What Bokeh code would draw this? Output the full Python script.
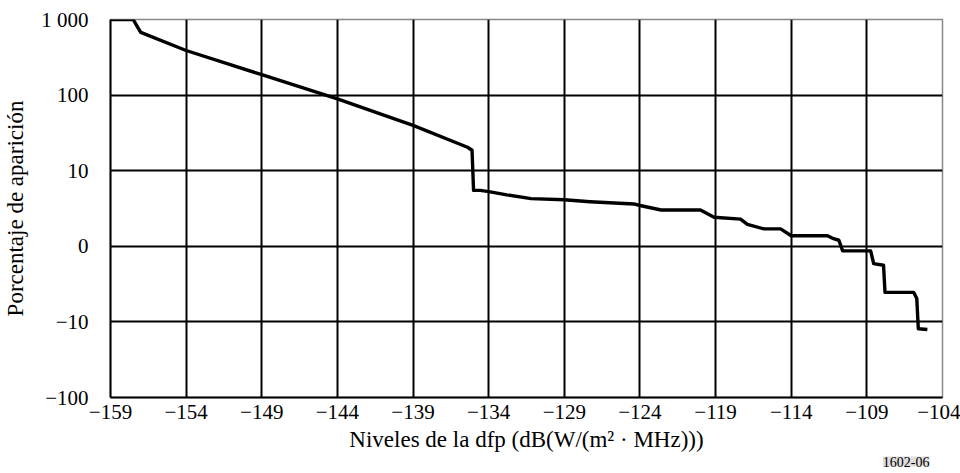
from bokeh.plotting import figure
from bokeh.models import Range1d, FixedTicker, Title
from bokeh.embed import file_html
from bokeh.resources import INLINE

# PFD level (dB(W/(m^2 MHz))) vs. occurrence, y in decade positions (0 = bottom tick)
pfd_levels = [-159.0, -157.5, -157.15, -157.0, -154.0, -149.0, -144.0, -139.0,
              -135.4, -135.1, -135.0, -134.55, -133.9, -132.8, -131.2, -129.0,
              -127.3, -124.4, -124.0, -122.6, -120.0, -119.1, -117.35, -116.9,
              -115.8, -114.7, -114.0, -111.6, -111.2, -110.85, -110.6, -108.75,
              -108.55, -107.9, -107.8, -105.9, -105.7, -105.6, -105.0]
occurrence_dec = [5.0, 5.0, 4.88, 4.83, 4.59, 4.27, 3.95, 3.60,
                  3.31, 3.27, 2.74, 2.74, 2.72, 2.68, 2.63, 2.615,
                  2.59, 2.56, 2.54, 2.48, 2.48, 2.385, 2.36, 2.29,
                  2.23, 2.23, 2.14, 2.14, 2.10, 2.08, 1.94, 1.94,
                  1.77, 1.75, 1.39, 1.39, 1.31, 0.91, 0.90]

x_ticks = [-159, -154, -149, -144, -139, -134, -129, -124, -119, -114, -109, -104]
y_ticks = [0, 1, 2, 3, 4, 5]
y_tick_labels = ["\u2212100", "\u221210", "0", "10", "100", "1 000"]

FONT = "Liberation Serif"

p = figure(width=960, height=473, output_backend="svg", toolbar_location=None,
           x_range=Range1d(-159, -104), y_range=Range1d(0, 5),
           min_border_left=110, min_border_right=18, min_border_top=19,
           min_border_bottom=76)

p.outline_line_color = "#888888"
p.outline_line_width = 1.5
p.background_fill_color = "white"
p.border_fill_color = "white"

p.xaxis.ticker = FixedTicker(ticks=x_ticks)
p.yaxis.ticker = FixedTicker(ticks=y_ticks)
p.xaxis.major_label_overrides = {t: str(t).replace("-", "\u2212") for t in x_ticks}
p.yaxis.major_label_overrides = {t: lab for t, lab in zip(y_ticks, y_tick_labels)}

for ax in (p.xaxis, p.yaxis):
    ax.axis_line_color = "black"
    ax.axis_line_width = 2
    ax.major_tick_line_color = None
    ax.minor_tick_line_color = None
    ax.major_label_text_font = FONT
    ax.major_label_text_font_size = "21px"
    ax.major_label_text_color = "black"
    ax.axis_label_text_font = FONT
    ax.axis_label_text_font_size = "23px"
    ax.axis_label_text_font_style = "normal"
    ax.axis_label_text_color = "black"

p.xaxis.major_label_standoff = 1
p.yaxis.major_label_standoff = 16
p.xaxis.axis_label = "Niveles de la dfp (dB(W/(m\u00b2 \u00b7 MHz)))"
p.xaxis.axis_label_standoff = 5
p.yaxis.axis_label = "Porcentaje de aparición"
p.yaxis.axis_label_standoff = 10

p.xgrid.grid_line_color = "black"
p.ygrid.grid_line_color = "black"
p.xgrid.grid_line_width = 2
p.ygrid.grid_line_width = 2
p.grid.grid_line_alpha = 1.0

p.line(pfd_levels, occurrence_dec, line_color="black", line_width=3.4,
       line_join="round")

# figure reference number, below the axis on the right
p.add_layout(Title(text="1602-06", align="right", offset=13, standoff=0,
                   text_font=FONT, text_font_size="14px",
                   text_font_style="normal", text_color="black",
                   background_fill_color="#dedede", background_fill_alpha=1.0),
             "below")

open("out.html", "w").write(file_html(p, INLINE))
